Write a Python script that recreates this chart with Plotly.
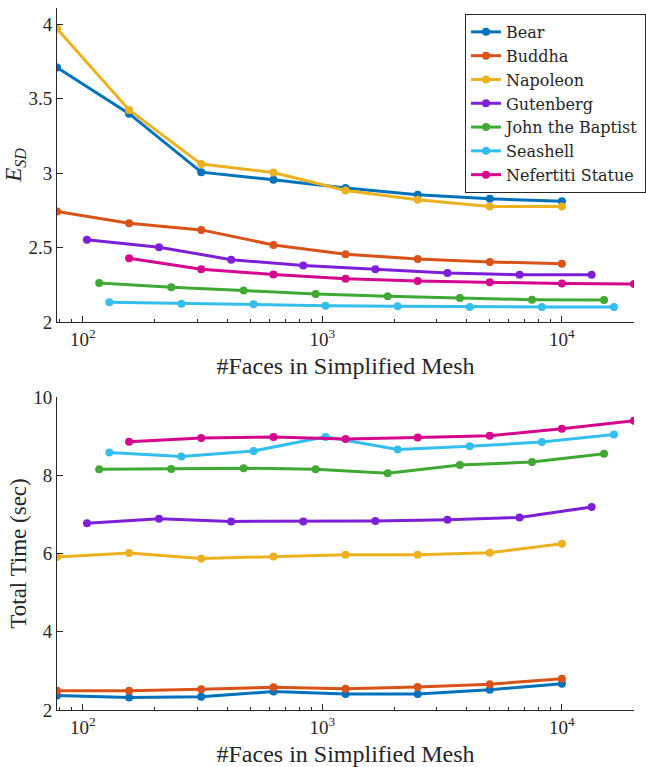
import numpy as np
import plotly.graph_objects as go
from plotly.subplots import make_subplots

# Mesh sizes (number of faces in the simplified mesh)
faces_bear = [78, 156, 312, 625, 1250, 2500, 5000, 10000]
faces_buddha = [78, 156, 312, 625, 1250, 2500, 5000, 10000]
faces_napoleon = [78, 156, 312, 625, 1250, 2500, 5000, 10000]
faces_gutenberg = [104, 208, 416, 832, 1664, 3328, 6656, 13312]
faces_john = [117, 234, 469, 938, 1875, 3750, 7500, 15000]
faces_seashell = [129, 258, 516, 1031, 2062, 4125, 8250, 16500]
faces_nefertiti = [156, 312, 625, 1250, 2500, 5000, 10000, 20000]

# Shape distortion error E_SD
esd_bear = [3.71, 3.40, 3.007, 2.956, 2.90, 2.855, 2.828, 2.812]
esd_buddha = [2.742, 2.664, 2.619, 2.518, 2.456, 2.424, 2.404, 2.392]
esd_napoleon = [3.97, 3.425, 3.061, 3.005, 2.884, 2.821, 2.776, 2.776]
esd_gutenberg = [2.552, 2.503, 2.419, 2.379, 2.355, 2.330, 2.317, 2.317]
esd_john = [2.262, 2.233, 2.211, 2.188, 2.173, 2.162, 2.150, 2.148]
esd_seashell = [2.132, 2.123, 2.119, 2.110, 2.106, 2.101, 2.101, 2.101]
esd_nefertiti = [2.428, 2.355, 2.319, 2.291, 2.276, 2.267, 2.258, 2.256]

# Total running time (sec)
time_bear = [2.37, 2.32, 2.34, 2.47, 2.41, 2.41, 2.52, 2.67]
time_buddha = [2.49, 2.49, 2.53, 2.58, 2.545, 2.59, 2.66, 2.80]
time_napoleon = [5.91, 6.01, 5.87, 5.92, 5.97, 5.97, 6.02, 6.25]
time_gutenberg = [6.77, 6.89, 6.82, 6.82, 6.83, 6.86, 6.92, 7.19]
time_john = [8.15, 8.16, 8.18, 8.15, 8.05, 8.26, 8.34, 8.55]
time_seashell = [8.58, 8.48, 8.62, 8.98, 8.66, 8.74, 8.85, 9.04]
time_nefertiti = [8.856, 8.95, 8.976, 8.925, 8.966, 9.01, 9.19, 9.39]

names = ["Bear", "Buddha", "Napoleon", "Gutenberg", "John the Baptist",
         "Seashell", "Nefertiti Statue"]
colors = ["#0072BD", "#D95319", "#EDB120", "#7E1FD8", "#3FA934",
          "#33BEEE", "#D5068D"]
faces = [faces_bear, faces_buddha, faces_napoleon, faces_gutenberg,
         faces_john, faces_seashell, faces_nefertiti]
esd = [esd_bear, esd_buddha, esd_napoleon, esd_gutenberg, esd_john,
       esd_seashell, esd_nefertiti]
times = [time_bear, time_buddha, time_napoleon, time_gutenberg, time_john,
         time_seashell, time_nefertiti]

x_tickvals = [100, 1000, 10000]
x_ticktext = ["10<sup>2</sup>", "10<sup>3</sup>", "10<sup>4</sup>"]
x_minor = [m * 10 ** d for d in range(1, 5) for m in range(2, 10)
           if 78 <= m * 10 ** d <= 20000]

font_family = "Liberation Serif, DejaVu Serif, serif"
legend_family = "DejaVu Serif, Liberation Serif, serif"
text_color = "#262626"

fig = make_subplots(rows=2, cols=1, vertical_spacing=0.0)

for name, col, fx, e, t in zip(names, colors, faces, esd, times):
    fig.add_trace(go.Scatter(x=fx, y=e, mode="lines+markers", name=name,
                             line=dict(color=col, width=3),
                             marker=dict(color=col, size=8),
                             legendgroup=name), row=1, col=1)
    fig.add_trace(go.Scatter(x=fx, y=t, mode="lines+markers", name=name,
                             line=dict(color=col, width=3),
                             marker=dict(color=col, size=8),
                             legendgroup=name, showlegend=False), row=2, col=1)

xaxis_common = dict(
    type="log", range=[np.log10(78), np.log10(20000)],
    tickmode="array", tickvals=x_tickvals, ticktext=x_ticktext,
    ticks="inside", ticklen=6, tickwidth=1, tickcolor=text_color,
    minor=dict(tickmode="array", tickvals=x_minor, ticks="inside",
               ticklen=3, tickwidth=1, tickcolor=text_color, showgrid=False),
    showline=True, linecolor=text_color, linewidth=1,
    showgrid=False, zeroline=False,
    tickfont=dict(family=font_family, size=19, color=text_color),
    title=dict(text="#Faces in Simplified Mesh", standoff=8,
               font=dict(family=font_family, size=24, color=text_color)),
)
fig.update_xaxes(**xaxis_common, row=1, col=1)
fig.update_xaxes(**xaxis_common, row=2, col=1)

yaxis_common = dict(
    ticks="inside", ticklen=6, tickwidth=1, tickcolor=text_color,
    showline=True, linecolor=text_color, linewidth=1,
    showgrid=False, zeroline=False,
    tickfont=dict(family=font_family, size=19, color=text_color),
)
fig.update_yaxes(**yaxis_common, range=[2, 4.11], tickvals=[2, 2.5, 3, 3.5, 4],
                 ticktext=["2", "2.5", "3", "3.5", "4"],
                 title=dict(text="<i>E</i><sub><i>SD</i></sub>", standoff=0,
                            font=dict(family=font_family, size=23,
                                      color=text_color)),
                 domain=[0.5527, 1.0], row=1, col=1)
fig.update_yaxes(**yaxis_common, range=[2, 10], tickvals=[2, 4, 6, 8, 10],
                 title=dict(text="Total Time (sec)", standoff=0,
                            font=dict(family=font_family, size=23,
                                      color=text_color)),
                 domain=[0.0, 0.4459], row=2, col=1)

fig.update_layout(
    width=646, height=767,
    margin=dict(l=57, r=12, t=8, b=57, autoexpand=False),
    paper_bgcolor="white", plot_bgcolor="white",
    font=dict(family=font_family, color=text_color),
    legend=dict(x=1.0208, y=0.9915, xanchor="right", yanchor="top",
                bgcolor="white", bordercolor=text_color, borderwidth=1,
                font=dict(family=legend_family, size=16, color=text_color),
                tracegroupgap=0, itemwidth=30),
    showlegend=True,
)

fig.write_html("out.html")
